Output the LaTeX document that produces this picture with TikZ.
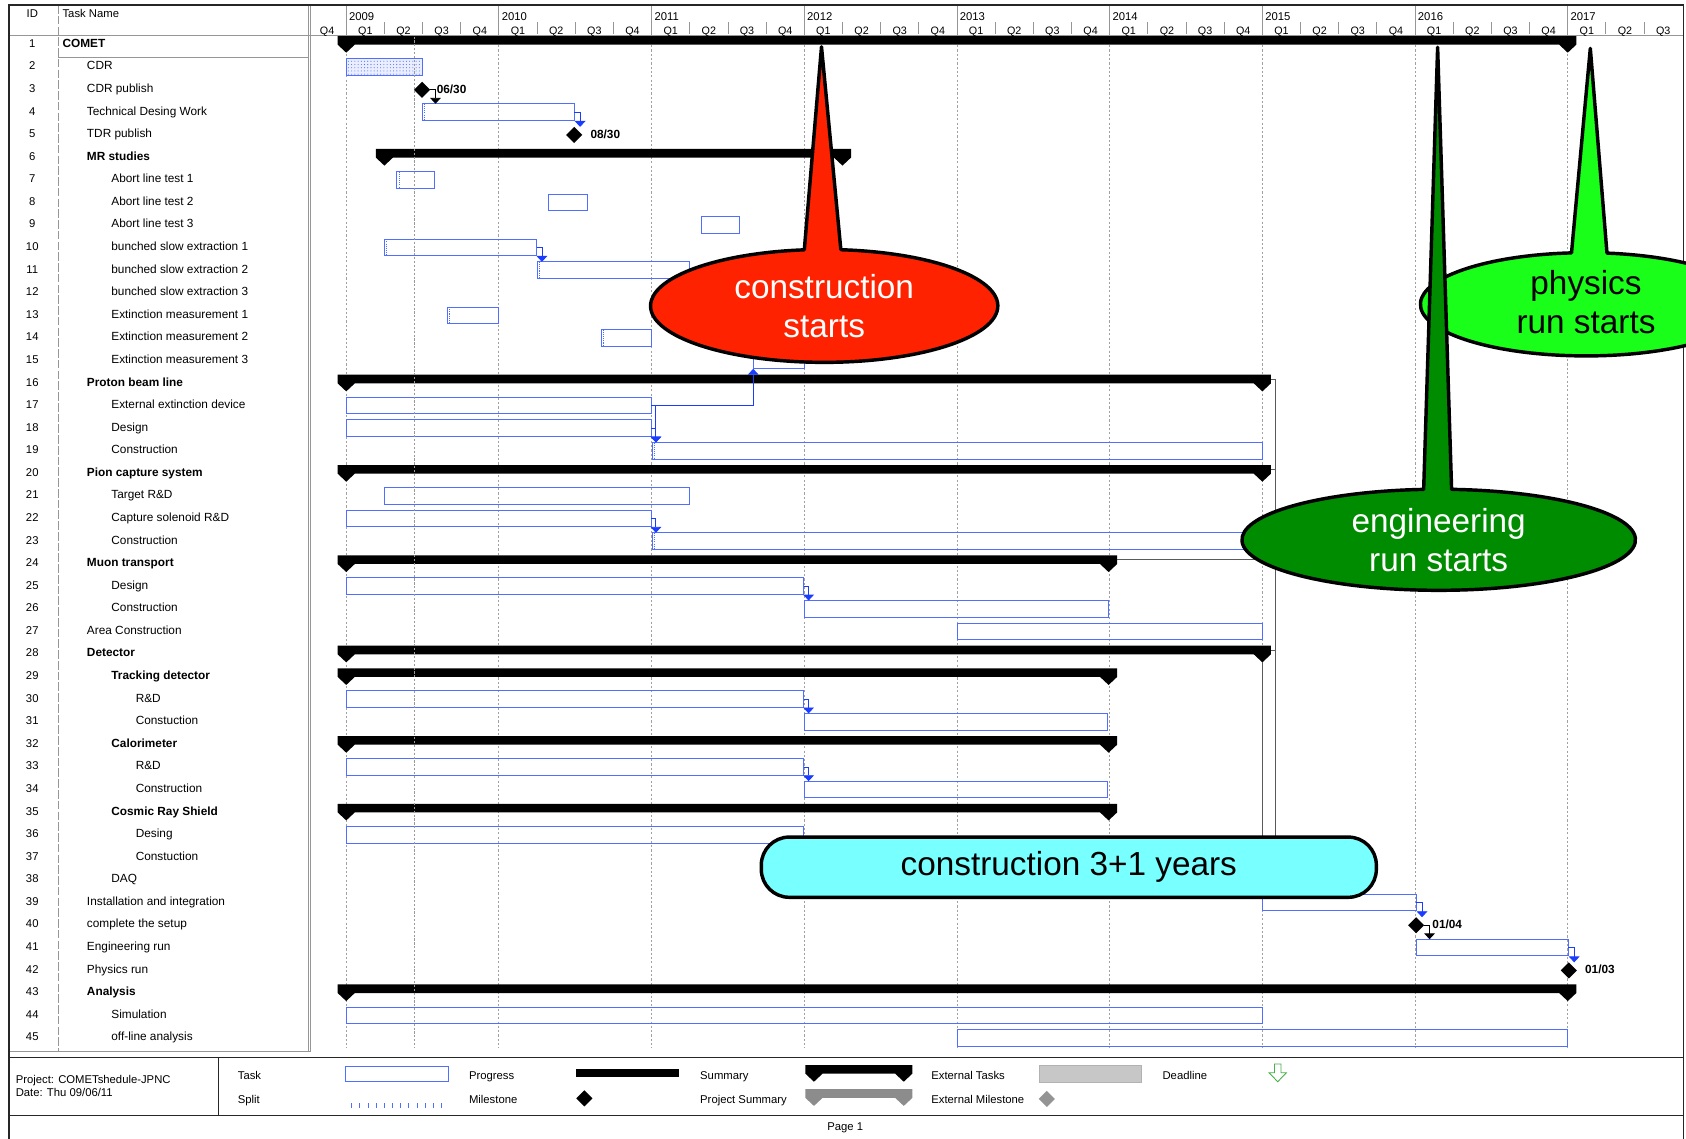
\documentclass[tikz,border=0pt]{standalone}
\usepackage{fontspec}
\setmainfont{Liberation Sans}
\usetikzlibrary{shapes.geometric,arrows.meta,patterns}
\definecolor{tb}{RGB}{80,110,255}
\definecolor{lk}{RGB}{25,60,255}
\definecolor{gridg}{RGB}{160,160,160}
\definecolor{tline}{RGB}{150,150,150}
\definecolor{callred}{RGB}{255,34,0}
\definecolor{calldg}{RGB}{0,140,0}
\definecolor{calllg}{RGB}{25,255,25}
\definecolor{callcy}{RGB}{120,255,255}
\definecolor{slinkc}{RGB}{90,90,90}
\definecolor{dlgreen}{RGB}{70,175,70}

\newcommand\tbox[4]{%
  \pgfmathsetmacro\tbw{#3-#2}%
  \pgfmathsetmacro\tby{12.5+21*#4}%
  \node[taskbox, minimum width=\tbw pt, anchor=north west] (#1) at (#2,\tby) {};}
\newcommand\summ[5][black]{%
  \fill[#1] ({#3-8},{#5-6.5}) -- ({#4+8},{#5-6.5}) -- ({#4+8},{#5+1.5}) -- (#4,{#5+9}) -- ({#4-8},{#5+1.5}) -- ({#3+8},{#5+1.5}) -- (#3,{#5+9}) -- ({#3-8},{#5+1.5}) -- cycle;
  \coordinate (#2) at ({#4+8},{#5-2.5});}
\newcommand\mymile[3]{\node[mile] (#1) at (#2,{20.5+21*#3}) {};}
\newcommand\splitmark[1]{\draw[draw=tb, line width=0.6pt, dash pattern=on 1pt off 1pt] ([xshift=2pt]#1.north west) -- ([xshift=2pt]#1.south west);}
\newcommand\callout[9]{%
  \pgfmathsetmacro\aR{360-acos((#8+#9-#2)/#4)}%
  \pgfmathsetmacro\aL{720-acos((#8-#9-#2)/#4)}%
  \pgfmathsetmacro\sx{#2+#4*cos(\aR)}%
  \pgfmathsetmacro\sy{#3+#5*sin(\aR)}%
  \draw[line width=3.2pt, line join=round, fill=#1] (#6,#7) -- (\sx,\sy) arc[start angle=\aR, end angle=\aL, x radius=#4, y radius=#5] -- cycle;}

\begin{document}
\begin{tikzpicture}[x=1pt,y=-1pt, line cap=butt,
  font=\fontsize{11}{13}\selectfont,
  taskbox/.style={draw=tb, line width=0.9pt, rectangle, inner sep=0pt, outer sep=0pt, minimum height=15.5pt},
  mile/.style={diamond, aspect=1, fill=black, inner sep=0pt, outer sep=0pt, minimum width=15pt, minimum height=15pt},
  mlab/.style={anchor=west, inner sep=0pt, text height=8pt, text depth=2pt, font=\fontsize{11}{13}\selectfont\bfseries},
  link/.style={draw=lk, line width=0.8pt, -{Triangle[width=10pt,length=5.5pt]}},
  blink/.style={draw=black, line width=0.8pt, -{Triangle[width=10pt,length=5.5pt]}},
  slink/.style={draw=slinkc, line width=0.8pt},
  yeargrid/.style={draw=gridg, line width=0.8pt, dash pattern=on 2pt off 2pt},
  hdrline/.style={draw=tline, line width=0.8pt},
  outerframe/.style={draw=black!85, line width=1.4pt},
  idn/.style={inner sep=0pt, text height=8pt, text depth=2pt, font=\fontsize{10.5}{12}\selectfont},
  tn/.style={anchor=west, inner sep=0pt, text height=8pt, text depth=2pt},
  rowB/.style={font=\fontsize{11}{13}\selectfont\bfseries},
  rowP/.style={},
  yl/.style={anchor=west, inner sep=0pt, font=\fontsize{10.5}{12}\selectfont},
  ql/.style={inner sep=0pt, font=\fontsize{10}{12}\selectfont},
  lg/.style={anchor=west, inner sep=0pt, text height=8pt, text depth=2pt, font=\fontsize{10.5}{12}\selectfont},
  callfont/.style={font=\fontsize{31}{36}\selectfont, align=center, inner sep=0pt}
]
\useasboundingbox (0,0) rectangle (1568,1059);
\clip (0,0) rectangle (1568,1059);
\fill[white] (0,0) rectangle (1568,1059);

% ---------- table lines ----------
\draw[hdrline, line width=1.2pt] (8.5,33) -- (1565.5,33);
\draw[hdrline, line width=1pt, dash pattern=on 8pt off 2pt] (54,4.7) -- (54,977.5);
\draw[hdrline, line width=1pt] (286.5,4.7) -- (286.5,977.5);
\draw[hdrline, line width=1pt] (289,4.7) -- (289,977.5);
\draw[hdrline, line width=1pt] (8.5,977.5) -- (289,977.5);
\draw[hdrline] (54,53.3) -- (286.5,53.3);

% ---------- header ----------
\node[idn] (hid) at (30,13.5) {ID};
\node[tn, font=\fontsize{10.5}{12}\selectfont] (hname) at (58,13.5) {Task Name};
\foreach \k in {0,...,8} {
  \pgfmathsetmacro\yx{322+142*\k}
  \pgfmathtruncatemacro\yr{2009+\k}
  \draw[hdrline] (\yx,4.7) -- (\yx,33);
  \node[yl] (yr\yr) at ({\yx+2.5},15) {\yr};
}
\node[ql] (q2008x4) at (304.25,29.5) {Q4};
\foreach \k in {0,...,8} {
  \foreach \q in {1,...,4} {
    \pgfmathtruncatemacro\qi{4*\k+\q}
    \ifnum\qi<36
      \node[ql] (q\k x\q) at ({322+142*\k+17.75+35.5*(\q-1)},29.5) {Q\q};
    \fi
    \ifnum\q<4 \ifnum\qi<35
      \draw[hdrline] ({322+142*\k+35.5*\q},20) -- ({322+142*\k+35.5*\q},32);
    \fi\fi
  }
}

% ---------- rows text ----------
\foreach \r/\lv/\st/\txt in {1/0/rowB/COMET, 2/1/rowP/CDR, 3/1/rowP/CDR publish, 4/1/rowP/Technical Desing Work, 5/1/rowP/TDR publish, 6/1/rowB/MR studies, 7/2/rowP/Abort line test 1, 8/2/rowP/Abort line test 2, 9/2/rowP/Abort line test 3, 10/2/rowP/bunched slow extraction 1, 11/2/rowP/bunched slow extraction 2, 12/2/rowP/bunched slow extraction 3, 13/2/rowP/Extinction measurement 1, 14/2/rowP/Extinction measurement 2, 15/2/rowP/Extinction measurement 3, 16/1/rowB/Proton beam line, 17/2/rowP/External extinction device, 18/2/rowP/Design, 19/2/rowP/Construction, 20/1/rowB/Pion capture system, 21/2/rowP/Target R\&D, 22/2/rowP/Capture solenoid R\&D, 23/2/rowP/Construction, 24/1/rowB/Muon transport, 25/2/rowP/Design, 26/2/rowP/Construction, 27/1/rowP/Area Construction, 28/1/rowB/Detector, 29/2/rowB/Tracking detector, 30/3/rowP/R\&D, 31/3/rowP/Constuction, 32/2/rowB/Calorimeter, 33/3/rowP/R\&D, 34/3/rowP/Construction, 35/2/rowB/Cosmic Ray Shield, 36/3/rowP/Desing, 37/3/rowP/Constuction, 38/2/rowP/DAQ, 39/1/rowP/Installation and integration, 40/1/rowP/complete the setup, 41/1/rowP/Engineering run, 42/1/rowP/Physics run, 43/1/rowB/Analysis, 44/2/rowP/Simulation, 45/2/rowP/off-line analysis} {
  \node[idn] (id\r) at (30,{20+21*\r}) {\r};
  \node[tn,\st] (tn\r) at ({58+22.7*\lv},{20+21*\r}) {\txt};
}

% ---------- grid ----------
\foreach \k in {0,...,8} \draw[yeargrid] ({322+142*\k},34) -- ({322+142*\k},975);

% ---------- task boxes ----------
\node[taskbox, minimum width=70.5pt, anchor=north west, preaction={fill=tb!12}, pattern=dots, pattern color=tb] (t2) at (322,54.5) {};
\tbox{t4}{392.5}{534}{4}
\tbox{t7}{369}{404.5}{7}
\tbox{t8}{510.5}{546}{8}
\tbox{t9}{652.5}{688}{9}
\tbox{t10}{357.5}{499}{10}
\tbox{t11}{500}{641}{11}
\tbox{t13}{416}{464}{13}
\tbox{t14}{559}{606}{14}
\tbox{t15}{700.5}{748}{15}
\tbox{t17}{322}{605.5}{17}
\tbox{t18}{322}{605.5}{18}
\tbox{t19}{606.5}{1174}{19}
\tbox{t21}{357.5}{641}{21}
\tbox{t22}{322}{605.5}{22}
\tbox{t23}{606.5}{1174}{23}
\tbox{t25}{322}{747.5}{25}
\tbox{t26}{748}{1031}{26}
\tbox{t27}{890}{1174}{27}
\tbox{t30}{322}{747.5}{30}
\tbox{t31}{748}{1029.5}{31}
\tbox{t33}{322}{747.5}{33}
\tbox{t34}{748}{1029.5}{34}
\tbox{t36}{322}{747.5}{36}
\tbox{t39}{1174}{1317}{39}
\tbox{t41}{1317}{1458.5}{41}
\tbox{t44}{322}{1174}{44}
\tbox{t45}{890}{1458}{45}
\splitmark{t4}\splitmark{t7}\splitmark{t10}\splitmark{t11}\splitmark{t13}\splitmark{t14}\splitmark{t19}\splitmark{t23}

% ---------- summaries ----------
\summ{s1}{322}{1458}{40}
\summ{s6}{357.5}{783.5}{145}
\summ{s16}{322}{1174}{355}
\summ{s20}{322}{1174}{439}
\summ{s24}{322}{1031}{523}
\summ{s28}{322}{1174}{607}
\summ{s29}{322}{1031}{628}
\summ{s32}{322}{1031}{691}
\summ{s35}{322}{1031}{754}
\summ{s43}{322}{1458}{922}

% ---------- milestones ----------
\mymile{m3}{392.5}{3}
\mymile{m5}{534}{5}
\mymile{m40}{1317}{40}
\mymile{m42}{1459}{42}
\node[mlab] (l3) at ([xshift=6pt]m3.east) {06/30};
\node[mlab] (l5) at ([xshift=7.5pt]m5.east) {08/30};
\node[mlab] (l40) at ([xshift=7.5pt]m40.east) {01/04};
\node[mlab] (l42) at ([xshift=7.5pt]m42.east) {01/03};

% ---------- links ----------
\coordinate (k3) at ([xshift=5pt]m3.east);
\draw[blink] (m3.east) -- (k3) -- (k3 |- t4.north);
\coordinate (k4) at ([xshift=5.5pt]t4.east);
\draw[link] (t4.east) -- (k4) -- (k4 |- m5.north);
\coordinate (k10) at ([xshift=5pt]t10.east);
\draw[link] (t10.east) -- (k10) -- (k10 |- t11.north);
\draw[link] (t17.east) -| (t15.south west);
\coordinate (k17) at ([xshift=4.5pt]t17.east);
\draw[link] (t17.east) -- (k17) -- (k17 |- t19.north);
\coordinate (k18) at ([xshift=4.5pt]t18.east);
\draw[link] (t18.east) -- (k18) -- (k18 |- t19.north);
\coordinate (k22) at ([xshift=4.5pt]t22.east);
\draw[link] (t22.east) -- (k22) -- (k22 |- t23.north);
\coordinate (k25) at ([xshift=4.5pt]t25.east);
\draw[link] (t25.east) -- (k25) -- (k25 |- t26.north);
\coordinate (k30) at ([xshift=4.5pt]t30.east);
\draw[link] (t30.east) -- (k30) -- (k30 |- t31.north);
\coordinate (k33) at ([xshift=4.5pt]t33.east);
\draw[link] (t33.east) -- (k33) -- (k33 |- t34.north);
\coordinate (k39) at ([xshift=5.5pt]t39.east);
\draw[link] (t39.east) -- (k39) -- (k39 |- m40.north);
\coordinate (k40) at ([xshift=5pt]m40.east);
\draw[blink] (m40.east) -- (k40) -- (k40 |- t41.north);
\coordinate (k41) at ([xshift=5.5pt]t41.east);
\draw[link] (t41.east) -- (k41) -- (k41 |- m42.north);

% summary links
\coordinate (bus) at (1186.5,831);
\draw[slink] (s16) -| (bus);
\draw[slink] (s20) -| (bus);
\draw[slink] (s24) -| (bus);
\draw[slink] (s28) -| (bus);
\coordinate (d28) at (1174,616);
\draw[slink] (d28) -- (d28 |- t39.north);

% current date line
\draw[draw=black!40, line width=1.8pt, dash pattern=on 2pt off 1.6pt] (385.5,34) -- (385.5,975);

% ---------- legend ----------
\draw[outerframe] (8.5,983.5) -- (1565.5,983.5);
\draw[outerframe] (8.5,1037.5) -- (1565.5,1037.5);
\draw[outerframe] (203,983.5) -- (203,1037.5);
\node[lg] (lgproj) at (14.5,1004.5) {Project: COMETshedule-JPNC};
\node[lg] (lgdate) at (14.5,1016.5) {Date: Thu 09/06/11};
\node[lg] (lgtaskt) at (221,1000.5) {Task};
\node[lg] (lgsplitt) at (221,1023) {Split};
\node[taskbox, minimum width=96pt, minimum height=14.5pt, anchor=north west] (lgtask) at (321,991.5) {};
\foreach \j in {0,...,11} \draw[draw=tb, line width=0.8pt] ({327+7.6*\j},1025.8) -- ++(0,4.5);
\node[lg] (lgprogt) at (436,1000.5) {Progress};
\node[lg] (lgmilet) at (436,1023) {Milestone};
\fill (535.5,994.5) rectangle (631.5,1002);
\node[mile] (lgmile) at (543.5,1021.5) {};
\node[lg] (lgsumt) at (651,1000.5) {Summary};
\node[lg] (lgpsumt) at (651,1023) {Project Summary};
\summ{lgsum}{757}{840.5}{997}
\summ[black!45]{lgpsum}{757}{840.5}{1019.5}
\node[lg] (lgextt) at (866,1000.5) {External Tasks};
\node[lg] (lgextmt) at (866,1023) {External Milestone};
\node[draw=black!30, fill=black!22, line width=0.8pt, inner sep=0pt, minimum width=95pt, minimum height=15pt, anchor=north west] (lgext) at (966,990.8) {};
\node[mile, fill=black!42] (lgextm) at (973.5,1022) {};
\node[lg] (lgdeadt) at (1081,1001) {Deadline};
\draw[draw=dlgreen, line width=0.8pt, line join=miter] (1185.3,989.5) -- (1191.3,989.5) -- (1191.3,997.6) -- (1196.4,997.6) -- (1188.3,1006) -- (1180.2,997.6) -- (1185.3,997.6) -- cycle;
\node[inner sep=0pt, font=\fontsize{10.5}{12}\selectfont] (pagen) at (786,1049) {Page 1};

% outer frame
\draw[outerframe] (8.5,4.7) rectangle (1565.5,1065);

% ---------- callouts ----------
\callout{callred}{766.5}{284.5}{161.5}{52.5}{764}{43.5}{765}{17}
\node[callfont, text=white] (txtred) at (766.5,284.5) {construction\\starts};
\callout{calllg}{1475}{283}{154}{48}{1479}{45}{1478}{16.5}
\node[callfont, text=black] (txtlg) at (1475,281) {physics\\run starts};
\callout{calldg}{1338}{502}{183}{47}{1337}{44}{1337}{13}
\node[callfont, text=white] (txtdg) at (1338,502) {engineering\\run starts};
\node[draw, line width=3.2pt, fill=callcy, rounded corners=26pt, minimum width=572pt, minimum height=56pt, inner sep=0pt, font=\fontsize{31}{36}\selectfont] (cyanbox) at (994,806.5) {construction 3+1 years};
\end{tikzpicture}
\end{document}
